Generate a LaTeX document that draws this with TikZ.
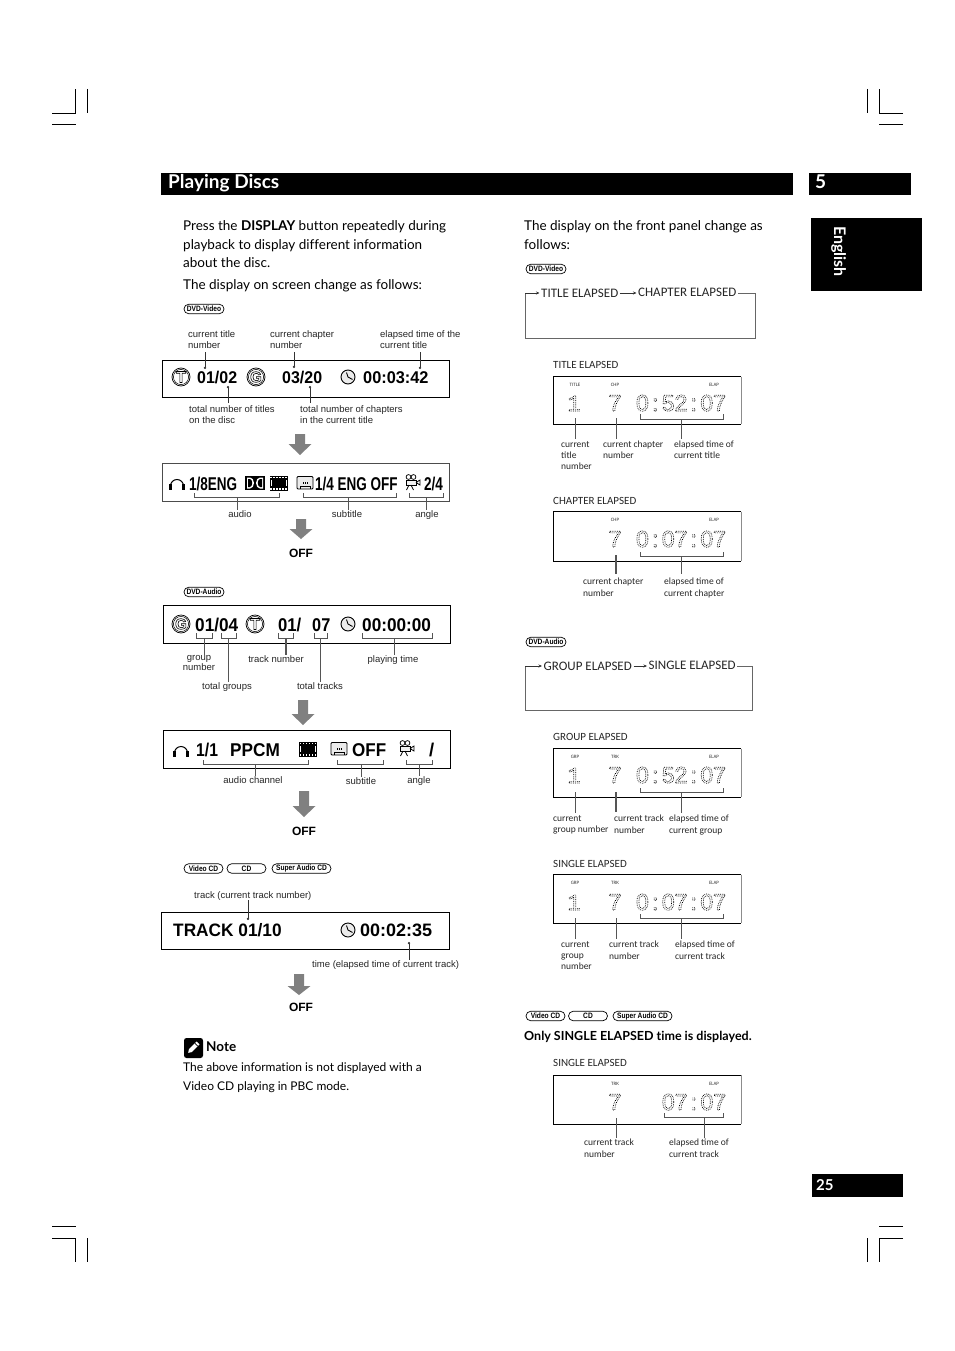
\documentclass[tikz,border=0pt]{standalone}
\usepackage{fontspec}
\usetikzlibrary{arrows.meta, positioning, calc}
\setmainfont[Ligatures=NoCommon]{Lato}
\newfontfamily\arialfont{Liberation Sans}
\newfontfamily\logofont[FakeStretch=0.85]{Liberation Sans}
\newfontfamily\lcdmono[FakeStretch=0.92]{Liberation Mono}
\newfontfamily\panelfont{Carlito}
\definecolor{leadgray}{HTML}{555555}
\definecolor{arrowgray}{HTML}{808080}
\newcommand{\lcdtxt}[1]{\special{pdf:code 1 Tr [0.8 1.0] 0 d 0.7 w}#1\special{pdf:code 0 Tr [] 0 d 0.4 w}}
\newcommand{\lcdc}{\makebox[13pt]{:}}
\newcommand{\outl}[1]{\special{pdf:code 1 Tr 0.6 w}#1\special{pdf:code 0 Tr 0.4 w}}
\newcommand{\dsp}[2]{\scalebox{#1}[1]{#2}}
\newcommand{\grayarrow}[4]{\fill[arrowgray] (#1-5,#2) -- (#1+5,#2) -- (#1+5,#3) -- (#1+11.5,#3) -- (#1,#4) -- (#1-11.5,#3) -- (#1-5,#3) -- cycle;}
\newcommand{\brkt}[4]{\draw[brk] (#1,#4) -- (#1,#3) -- (#2,#3) -- (#2,#4);}
\newcommand{\leader}[5][lead]{\coordinate (#2a) at (#3,#4); \coordinate (#2b) at (#3,#5); \draw[#1] (#2a) -- (#2b);}
\newcommand{\lcdbox}[2]{\draw[panel] (741,#1) -- (553,#1) -- (553,#2) -- (741,#2); \draw[black!45,line width=0.8pt] (741,#1) -- (741,#2);}
\tikzset{
  body/.style={anchor=base west,inner sep=0pt,font=\fontsize{13.5}{18}\selectfont},
  notetxt/.style={body,font=\fontsize{12}{18}\selectfont},
  lbl/.style={anchor=north west,align=left,inner sep=0pt,text=black!85,font=\arialfont\fontsize{9.5}{11.7}\selectfont},
  lblc/.style={lbl,anchor=north,align=center},
  dispnum/.style={anchor=base west,inner sep=0pt,font=\arialfont\bfseries\fontsize{#1}{#1}\selectfont},
  dispnum/.default=18.5,
  offlbl/.style={inner sep=0pt,font=\arialfont\bfseries\fontsize{12}{12}\selectfont},
  logo/.style={draw,rounded corners=4.7pt,minimum width=#1,minimum height=9.5pt,inner sep=0pt,line width=0.7pt,font=\logofont\bfseries\fontsize{7.8}{7.8}\selectfont},
  logo/.default=39pt,
  panel/.style={draw=black,line width=0.8pt},
  lead/.style={leadgray,line width=0.7pt},
  leaddot/.style={black!80,line width=0.8pt,-{Circle[length=2.2pt]}},
  brk/.style={leadgray,line width=0.7pt},
  loopline/.style={black!60,line width=0.7pt},
  looparrow/.style={black!80,line width=0.7pt,-{Stealth[length=3.5pt,width=3pt]}},
  looplbl/.style={inner sep=1.5pt,anchor=base west,text=black!85,font=\panelfont\fontsize{13}{13}\selectfont},
  ptitle/.style={anchor=base west,inner sep=0pt,text=black!85,font=\panelfont\fontsize{11}{11}\selectfont},
  plbl/.style={anchor=north west,align=left,inner sep=0pt,text=black!85,font=\panelfont\fontsize{9.5}{11.2}\selectfont},
  tiny/.style={inner sep=0pt,text=black!80,font=\panelfont\fontsize{5}{5}\selectfont},
  lcd/.style={anchor=base,inner sep=0pt,font=\arialfont\fontsize{23}{23}\selectfont},
  lcdone/.style={anchor=base,inner sep=0pt,font=\lcdmono\fontsize{23}{23}\selectfont},
  pics/clockicon/.style={code={
    \draw[line width=0.9pt,fill=black!8] (0,0) circle (7);
    \draw[line width=0.9pt] (-1.5,-4.5) -- (0,0) -- (4.5,2.5);
  }},
  pics/ticon/.style={code={
    \draw[line width=0.7pt] (0,0) circle (9);
    \draw[line width=0.5pt] (0,0) circle (7.6);
    \node[inner sep=0pt,font=\arialfont\bfseries\fontsize{16}{16}\selectfont] (ticontxt) at (0,0) {\outl{T}};
  }},
  pics/gicon/.style={code={
    \draw[line width=0.7pt] (0,0) circle (9);
    \draw[line width=0.5pt] (0,0) circle (7.6);
    \node[inner sep=0pt,font=\arialfont\bfseries\fontsize{15}{15}\selectfont] (gicontxt) at (0,0) {\outl{G}};
  }},
  pics/phones/.style={code={
    \draw[line width=1pt] (-6.5,3) arc (180:360:6.5);
    \fill (-8.2,1) rectangle (-5.2,6.5);
    \fill (5.2,1) rectangle (8.2,6.5);
  }},
  pics/filmicon/.style={code={
    \fill (-9,-7.5) rectangle (9,7.5);
    \fill[white] (-8,-3) rectangle (-7.2,3);
    \fill[white] (7.2,-3) rectangle (8,3);
    \foreach \hx in {-7.5,-4.5,...,7.5} {\fill[white] (\hx-0.6,-6.5) rectangle (\hx+0.6,-5.2); \fill[white] (\hx-0.6,5.2) rectangle (\hx+0.6,6.5);}
  }},
  pics/subicon/.style={code={
    \draw[line width=0.8pt,rounded corners=1pt,fill=black!8] (-8,-6.5) rectangle (8,6);
    \draw[line width=0.8pt] (-5,6) -- (-5,3) -- (5,3) -- (5,6);
    \foreach \hx in {-2,0,2} {\fill (\hx-0.5,-0.6) rectangle (\hx+0.5,0.6);}
  }},
  pics/camicon/.style={code={
    \draw[line width=0.7pt] (-3.5,-5) circle (2.4) (1.5,-5) circle (2.4);
    \draw[line width=0.9pt,fill=black!5] (-6,-2) rectangle (4,3);
    \draw[line width=0.8pt] (4,0.5) -- (8,-2) -- (8,3) -- (4,0.5);
    \draw[line width=0.7pt] (-3,3) -- (-5.5,8) (-1,3) -- (1.5,8);
  }},
  pics/dolbyicon/.style={code={
    \fill (0,-7) rectangle (20,7);
    \fill[white] (2,-5.5) -- (5,-5.5) arc[start angle=-90,end angle=90,x radius=4,y radius=5.5] -- (2,5.5) -- cycle;
    \fill[white] (18,-5.5) -- (15,-5.5) arc[start angle=270,end angle=90,x radius=4,y radius=5.5] -- (18,5.5) -- cycle;
    \fill (3,-4) -- (4.8,-4) arc[start angle=-90,end angle=90,x radius=2.4,y radius=4] -- (3,4) -- cycle;
    \fill (17,-4) -- (15.2,-4) arc[start angle=270,end angle=90,x radius=2.4,y radius=4] -- (17,4) -- cycle;
  }},
}
\begin{document}
\begin{tikzpicture}[x=1pt,y=-1pt]
\useasboundingbox (0,0) rectangle (954,1351);
\fill[white] (0,0) rectangle (954,1351);
% crop marks
\draw[line width=0.5pt] (52,113) -- (75.5,113) -- (75.5,89) (87.5,89) -- (87.5,113) (52,124) -- (75.5,124);
\draw[line width=0.5pt] (903,113) -- (879,113) -- (879,89) (867,89) -- (867,113) (903,124) -- (879,124);
\draw[line width=0.5pt] (52,1238) -- (75.5,1238) -- (75.5,1262) (87.5,1238) -- (87.5,1262) (52,1226) -- (75.5,1226);
\draw[line width=0.5pt] (903,1238) -- (879,1238) -- (879,1262) (867,1238) -- (867,1262) (903,1226) -- (879,1226);
% header
\fill (161,173) rectangle (793,195);
\fill (809,173) rectangle (911,195);
\fill (811,218) rectangle (922,291);
\fill (812,1174) rectangle (903,1197);
\node[anchor=base west,inner sep=0pt,text=white,font=\bfseries\fontsize{19}{19}\selectfont] (heading) at (168,189) {Playing Discs};
\node[anchor=base west,inner sep=0pt,text=white,font=\bfseries\fontsize{19}{19}\selectfont] (chapno) at (815,189) {5};
\node[anchor=base west,inner sep=0pt,text=white,rotate=-90,font=\bfseries\fontsize{16}{16}\selectfont] (lang) at (834,226) {English};
\node[anchor=base west,inner sep=0pt,text=white,font=\bfseries\fontsize{15}{15}\selectfont] (pageno) at (816,1190) {25};
% left text
\node[body] (p1) at (183,230) {Press the \textbf{DISPLAY} button repeatedly during};
\node[body] (p2) at (183,249) {playback to display different information};
\node[body] (p3) at (183,267) {about the disc.};
\node[body] (p4) at (183,289) {The display on screen change as follows:};
\node[logo=40pt] (lgdvdv) at (204,309) {DVD-Video};
% screen 1
\node[lbl] (a1) at (188,330) {current title\\number};
\node[lbl] (a2) at (270,330) {current chapter\\number};
\node[lbl] (a3) at (380,330) {elapsed time of the\\current title};
\draw[panel] (162,360) rectangle (449,397);
\leader[leaddot]{s1}{205}{352}{369}
\leader[leaddot]{s2}{294}{352}{368}
\leader[leaddot]{s3}{420}{352}{369}
\leader[leaddot]{s4}{228}{403}{386}
\leader[leaddot]{s5}{310}{403}{386}
\pic at (181,377) {ticon};
\node[dispnum=17] (d1) at (197,383.5) {\dsp{0.94}{01/02}};
\pic at (256,377) {gicon};
\node[dispnum=17] (d2) at (282,383.5) {\dsp{0.94}{03/20}};
\pic at (348,377) {clockicon};
\node[dispnum=17] (d3) at (363,383.5) {\dsp{0.96}{00:03:42}};
\node[lbl] (a4) at (189,405) {total number of titles\\on the disc};
\node[lbl] (a5) at (300,405) {total number of chapters\\in the current title};
\grayarrow{300}{434}{444}{455}
% screen 2
\draw[panel,black!70] (162,463.5) rectangle (449,501);
\pic at (177,483) {phones};
\node[dispnum] (d4) at (189,490) {\dsp{0.73}{1/8ENG}};
\pic at (245,483) {dolbyicon};
\pic at (278.5,483) {filmicon};
\pic at (305,483) {subicon};
\node[dispnum] (d5) at (315,490) {\dsp{0.73}{1/4 ENG OFF}};
\pic at (412,482) {camicon};
\node[dispnum] (d6) at (424,490) {\dsp{0.73}{2/4}};
\brkt{194}{279}{497}{493}
\brkt{303}{396}{497}{493}
\brkt{409}{443}{497}{493}
\node[lblc] (b1) at (240,510) {audio};
\node[lblc] (b2) at (347,510) {subtitle};
\node[lblc] (b3) at (427,510) {angle};
\draw[lead] (237,497) -- (b1.north -| 237,0);
\draw[lead] (348,497) -- (b2.north -| 348,0);
\draw[lead] (426,497) -- (b3.north -| 426,0);
\grayarrow{301}{519}{529}{539}
\node[offlbl] (o1) at (301,553) {OFF};
% dvd audio
\node[logo=40pt] (lgdvda) at (204,592) {DVD-Audio};
\draw[panel] (163,605) rectangle (450,643);
\pic at (181,624) {gicon};
\node[dispnum] (d7) at (195,631) {\dsp{0.93}{01/04}};
\pic at (255,624) {ticon};
\node[dispnum] (d8) at (278,631) {\dsp{0.9}{01/}};
\node[dispnum] (d9) at (312,631) {\dsp{0.88}{07}};
\pic at (348,624) {clockicon};
\node[dispnum] (d10) at (362,631) {\dsp{0.93}{00:00:00}};
\brkt{196}{212}{638}{633}
\brkt{221}{236}{638}{633}
\brkt{278}{293}{638}{633}
\brkt{314}{327}{638}{633}
\brkt{362}{432}{638}{633}
\node[lblc,font=\arialfont\fontsize{9.5}{10}\selectfont] (c1) at (199,655) {group\\number};
\node[lblc] (c2) at (227,682) {total groups};
\node[lblc] (c3) at (276,655) {track number};
\node[lblc] (c4) at (320,682) {total tracks};
\node[lblc] (c5) at (393,655) {playing time};
\draw[lead] (204,638) -- (c1.north -| 204,0);
\draw[lead] (228,638) -- (c2.north -| 228,0);
\draw[lead,line width=1.2pt] (286,638) -- (c3.north -| 286,0);
\draw[lead] (320,638) -- (c4.north -| 320,0);
\draw[lead] (394,638) -- (c5.north -| 394,0);
\grayarrow{303}{700}{714}{725}
% screen 4
\draw[panel] (163,730) rectangle (450,768);
\pic at (181,750) {phones};
\node[dispnum] (d11) at (196,756) {\dsp{0.85}{1/1}};
\node[dispnum] (d12) at (230,756) {\dsp{0.93}{PPCM}};
\pic at (308,749) {filmicon};
\pic at (339,749) {subicon};
\node[dispnum] (d13) at (352,756) {\dsp{0.92}{OFF}};
\pic at (406,748) {camicon};
\node[dispnum] (d14) at (429,756) {/};
\brkt{203}{308}{764}{760}
\brkt{337}{383}{764}{760}
\brkt{406}{432}{764}{760}
\node[lblc] (e1) at (253,776) {audio channel};
\node[lblc] (e2) at (361,777) {subtitle};
\node[lblc] (e3) at (419,776) {angle};
\draw[lead] (255,764) -- (e1.north -| 255,0);
\draw[lead] (361,764) -- (e2.north -| 361,0);
\draw[lead] (419,764) -- (e3.north -| 419,0);
\grayarrow{304}{791}{806}{817}
\node[offlbl] (o2) at (304,831) {OFF};
% video cd
\node[logo] (lgvcd) at (203.5,868.5) {Video CD};
\node[logo] (lgcd) at (246.5,868.5) {CD};
\node[logo=59pt] (lgsacd) at (301.5,868.5) {Super Audio CD};
\node[lbl] (f1) at (194,891) {track (current track number)};
\draw[panel] (161.5,912) rectangle (449,949);
\draw[leaddot] (f1.south -| 248,0) -- (248,920);
\node[dispnum=18] (d15) at (173,936) {\dsp{0.96}{TRACK 01/10}};
\pic at (348,930) {clockicon};
\node[dispnum=18] (d16) at (360,936) {00:02:35};
\node[lbl] (f2) at (312,960) {time (elapsed time of current track)};
\draw[leaddot] (f2.north -| 409,0) -- (409,942);
\grayarrow{299}{974}{986}{995}
\node[offlbl] (o3) at (301,1007) {OFF};
% note
\fill[rounded corners=2.5pt] (184,1038) rectangle (203,1058);
\fill[white,rotate around={45:(193.5,1047.5)}] (186,1047.5) -- (189,1045.5) -- (200,1045.5) -- (200,1049.5) -- (189,1049.5) -- cycle;
\draw[line width=0.6pt,rotate around={45:(193.5,1047.5)}] (197.5,1045.5) -- (197.5,1049.5);
\node[anchor=base west,inner sep=0pt,font=\bfseries\fontsize{13.5}{14}\selectfont] (n0) at (206,1051) {Note};
\node[notetxt] (n1) at (183,1071) {The above information is not displayed with a};
\node[notetxt] (n2) at (183,1090) {Video CD playing in PBC mode.};
% right text
\node[body] (r1) at (524,230) {The display on the front panel change as};
\node[body] (r2) at (524,249) {follows:};
\node[logo=40pt] (rgdvdv) at (546,269) {DVD-Video};
% loop 1
\node[looplbl] (t1) at (539.5,297) {TITLE ELAPSED};
\node[looplbl] (t2) at (636.5,296) {CHAPTER ELAPSED};
\coordinate (t3) at (755,293);
\coordinate (t4) at (755,338);
\coordinate (t5) at (525,338);
\coordinate (t6) at (525,293);
\draw[looparrow] (t1.east |- t3) -- (t2.west |- t3);
\draw[loopline] (t2.east |- t3) -- (t3) -- (t4) -- (t5) -- (t6);
\draw[looparrow] (t6) -- (t1.west |- t6);
% panel title elapsed
\node[ptitle] (g1) at (553,368) {TITLE ELAPSED};
\lcdbox{376.5}{424}
\node[tiny] (g2) at (575,385) {TITLE};
\node[tiny] (g3) at (615,385) {CHP};
\node[tiny] (g4) at (714,385) {ELAP};
\node[lcdone] (g5) at (574,411) {\lcdtxt{1}};
\node[lcd] (g6) at (615,411) {\lcdtxt{7}};
\node[lcd] (g7) at (681,411) {\lcdtxt{0\lcdc 52\lcdc 07}};
\brkt{640}{723}{419}{414}
\leader{g8}{575}{418}{439}
\leader{g9}{616}{418}{439}
\leader{g10}{681}{419}{439}
\node[plbl] (g11) at (561,441) {current\\title\\number};
\node[plbl] (g12) at (603,441) {current chapter\\number};
\node[plbl] (g13) at (674,441) {elapsed time of\\current title};
% panel chapter elapsed
\node[ptitle] (h1) at (553,504) {CHAPTER ELAPSED};
\lcdbox{511.5}{561}
\node[tiny] (h2) at (615,520) {CHP};
\node[tiny] (h3) at (714,520) {ELAP};
\node[lcd] (h4) at (615,547) {\lcdtxt{7}};
\node[lcd] (h5) at (681,547) {\lcdtxt{0\lcdc 07\lcdc 07}};
\brkt{640}{723}{556}{552}
\leader[lead,line width=1.1pt]{h6}{616}{555}{574}
\leader{h7}{681}{556}{574}
\node[plbl] (h8) at (583,578) {current chapter\\number};
\node[plbl] (h9) at (664,578) {elapsed time of\\current chapter};
% dvd audio right
\node[logo=40pt] (rgdvda) at (546,642) {DVD-Audio};
\node[looplbl] (k1) at (542,670) {GROUP ELAPSED};
\node[looplbl] (k2) at (647,669) {SINGLE ELAPSED};
\coordinate (k3) at (752,666);
\coordinate (k4) at (752,710.5);
\coordinate (k5) at (525,710.5);
\coordinate (k6) at (525,666);
\draw[looparrow] (k1.east |- k3) -- (k2.west |- k3);
\draw[loopline] (k2.east |- k3) -- (k3) -- (k4) -- (k5) -- (k6);
\draw[looparrow] (k6) -- (k1.west |- k6);
% panel group elapsed
\node[ptitle] (m1) at (553,740) {GROUP ELAPSED};
\lcdbox{748.5}{797}
\node[tiny] (m2) at (575,757) {GRP};
\node[tiny] (m3) at (615,757) {TRK};
\node[tiny] (m4) at (714,757) {ELAP};
\node[lcdone] (m5) at (574,783) {\lcdtxt{1}};
\node[lcd] (m6) at (615,783) {\lcdtxt{7}};
\node[lcd] (m7) at (681,783) {\lcdtxt{0\lcdc 52\lcdc 07}};
\brkt{640}{723}{792}{788}
\leader{m8}{575}{792}{813}
\leader[lead,line width=1.1pt]{m9}{616}{792}{812}
\leader{m10}{681}{792}{813}
\node[plbl] (m11) at (553,815) {current\\group number};
\node[plbl] (m12) at (614,815) {current track\\number};
\node[plbl] (m13) at (669,815) {elapsed time of\\current group};
% panel single elapsed
\node[ptitle] (q1) at (553,867) {SINGLE ELAPSED};
\lcdbox{874.5}{923}
\node[tiny] (q2) at (575,883) {GRP};
\node[tiny] (q3) at (615,883) {TRK};
\node[tiny] (q4) at (714,883) {ELAP};
\node[lcdone] (q5) at (574,910) {\lcdtxt{1}};
\node[lcd] (q6) at (615,910) {\lcdtxt{7}};
\node[lcd] (q7) at (681,910) {\lcdtxt{0\lcdc 07\lcdc 07}};
\brkt{640}{723}{918}{914}
\leader{q8}{575}{918}{939}
\leader{q9}{616}{918}{939}
\leader{q10}{681}{918}{939}
\node[plbl] (q11) at (561,941) {current\\group\\number};
\node[plbl] (q12) at (609,941) {current track\\number};
\node[plbl] (q13) at (675,941) {elapsed time of\\current track};
% video cd right
\node[logo] (rgvcd) at (545.5,1016) {Video CD};
\node[logo] (rgcd) at (588,1016) {CD};
\node[logo=59pt] (rgsacd) at (642.5,1016) {Super Audio CD};
\node[body,font=\bfseries\fontsize{12.5}{18}\selectfont] (u1) at (524,1040) {Only SINGLE ELAPSED time is displayed.};
\node[ptitle] (v1) at (553,1066) {SINGLE ELAPSED};
\lcdbox{1075}{1124}
\node[tiny] (v2) at (615,1084) {TRK};
\node[tiny] (v3) at (714,1084) {ELAP};
\node[lcd] (v4) at (615,1110) {\lcdtxt{7}};
\node[lcd] (v5) at (694,1110) {\lcdtxt{07\lcdc 07}};
\brkt{664}{723}{1117}{1113}
\leader{v6}{616}{1118}{1138}
\leader{v7}{704}{1117}{1138}
\node[plbl] (v8) at (584,1139) {current track\\number};
\node[plbl] (v9) at (669,1139) {elapsed time of\\current track};
\end{tikzpicture}
\end{document}
